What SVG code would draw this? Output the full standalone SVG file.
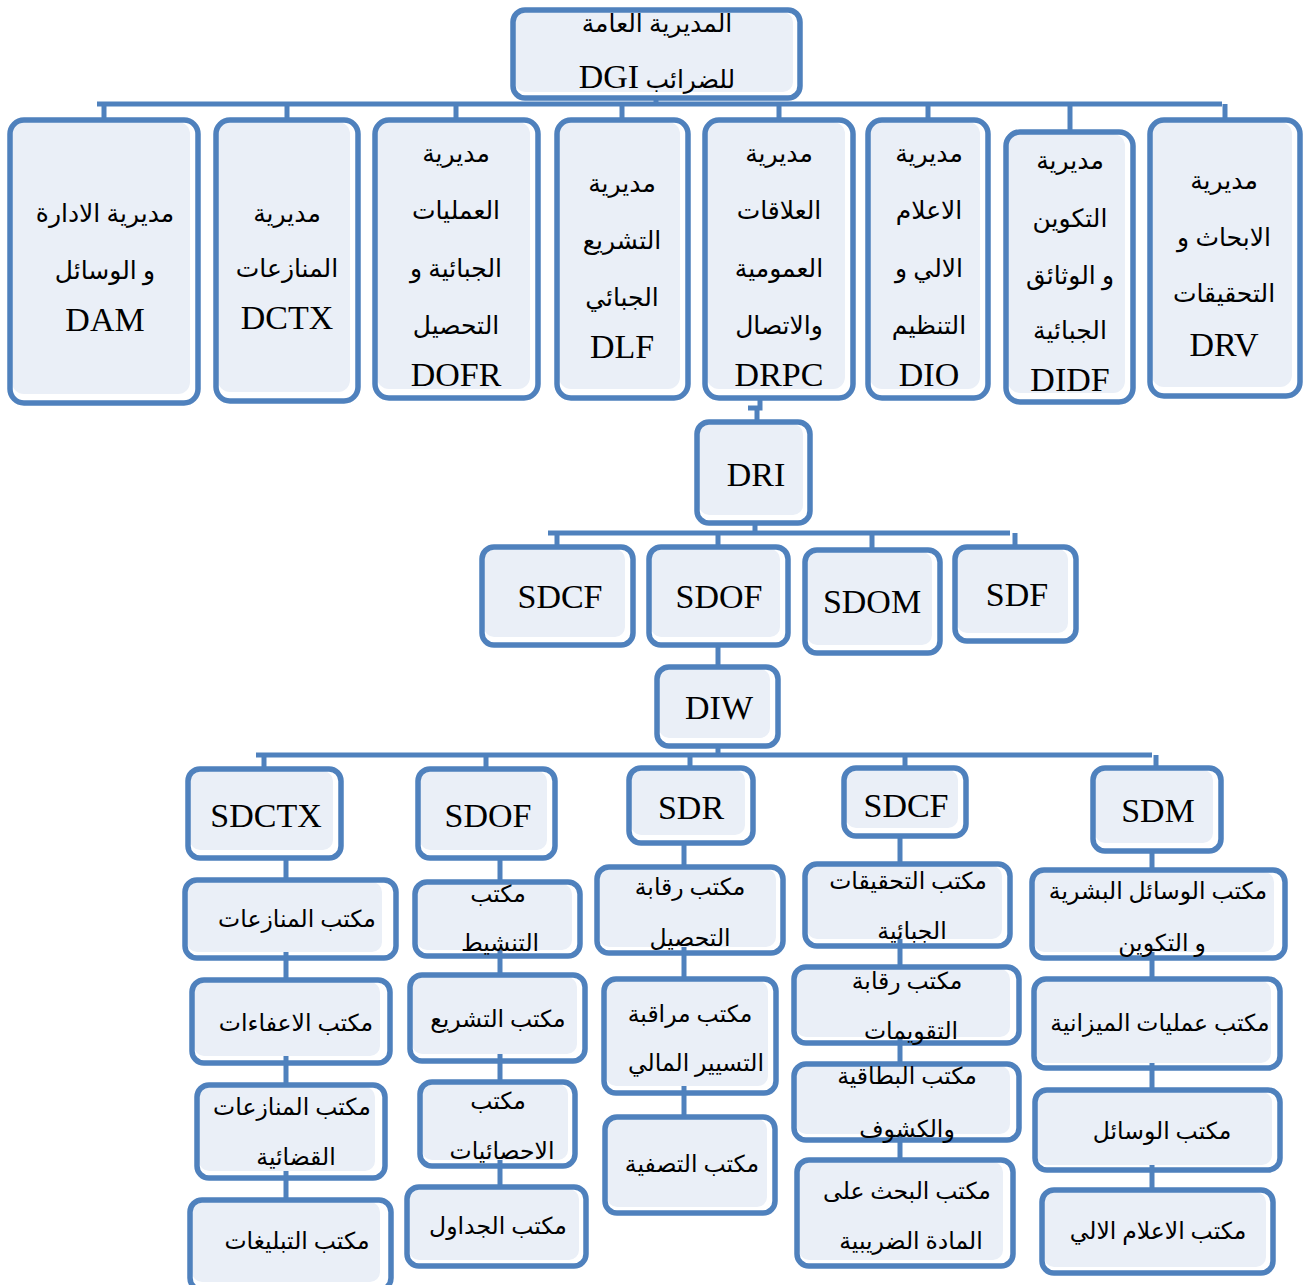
<svg xmlns="http://www.w3.org/2000/svg" width="1304" height="1285" viewBox="0 0 1304 1285">
<style>
.bd{fill:none;stroke:#4f81bd;stroke-width:5.5}
.bg{fill:#eaeff7}
.ln{stroke:#4f81bd;stroke-width:5;fill:none}
.ar{font-family:"Liberation Serif","DejaVu Sans",serif;font-size:25px;fill:#000;text-anchor:middle}
.sm{font-size:23.5px}
.la{font-family:"Liberation Serif",serif;font-size:34px;fill:#000;text-anchor:middle}
</style>
<rect width="1304" height="1285" fill="#fff"/>
<g id="connectors">
<path class="ln" d="M97 104H1222"/>
<path class="ln" d="M656 98V104M104 104V120M287 104V120M456 104V120M622 104V120M779 104V120M928 104V120M1070 104V132M1225 104V120"/>
<path class="ln" d="M760 398V408H748M757 408V422"/>
<path class="ln" d="M755 523V533M548 533H1010M557 533V547M718 533V547M872 533V550M1015 533V547"/>
<path class="ln" d="M718 645V667"/>
<path class="ln" d="M718 746V755M256 755H1152M264 755V769M486 755V769M690 755V768M905 755V768M1156 755V768"/>
<path class="ln" d="M286 858V1200"/>
<path class="ln" d="M500 858V1187"/>
<path class="ln" d="M684 843V1117"/>
<path class="ln" d="M900 836V1160"/>
<path class="ln" d="M1152 851V1190"/>
</g>
<g id="dgi"><rect class="bg" x="515" y="12" width="278" height="80" rx="10"/><rect class="bd" x="513" y="10" width="287" height="88" rx="12"/><text class="ar" x="657" y="32">المديرية العامة</text><text class="ar" x="657" y="88"><tspan class="la" font-size="32">DGI</tspan> للضرائب</text></g>
<g id="dam"><rect class="bg" x="12" y="122" width="178" height="272" rx="12"/><rect class="bd" x="10" y="120" width="188" height="283" rx="14"/><text class="ar" x="105" y="222">مديرية الادارة</text><text class="ar" x="105" y="279">و الوسائل</text><text class="la" x="105" y="331">DAM</text></g>
<g id="dctx"><rect class="bg" x="218" y="122" width="132" height="270" rx="12"/><rect class="bd" x="216" y="120" width="142" height="281" rx="14"/><text class="ar" x="287" y="222">مديرية</text><text class="ar" x="287" y="277">المنازعات</text><text class="la" x="287" y="329">DCTX</text></g>
<g id="dofr"><rect class="bg" x="377" y="122" width="153" height="267" rx="12"/><rect class="bd" x="375" y="120" width="163" height="278" rx="14"/><text class="ar" x="456" y="162">مديرية</text><text class="ar" x="456" y="219">العمليات</text><text class="ar" x="456" y="277">الجبائية و</text><text class="ar" x="456" y="334">التحصيل</text><text class="la" x="456" y="386">DOFR</text></g>
<g id="dlf"><rect class="bg" x="559" y="122" width="121" height="267" rx="12"/><rect class="bd" x="557" y="120" width="131" height="278" rx="14"/><text class="ar" x="622" y="192">مديرية</text><text class="ar" x="622" y="249">التشريع</text><text class="ar" x="622" y="306">الجبائي</text><text class="la" x="622" y="358">DLF</text></g>
<g id="drpc"><rect class="bg" x="707" y="122" width="138" height="267" rx="12"/><rect class="bd" x="705" y="120" width="148" height="278" rx="14"/><text class="ar" x="779" y="162">مديرية</text><text class="ar" x="779" y="219">العلاقات</text><text class="ar" x="779" y="277">العمومية</text><text class="ar" x="779" y="334">والاتصال</text><text class="la" x="779" y="386">DRPC</text></g>
<g id="dio"><rect class="bg" x="870" y="122" width="110" height="267" rx="12"/><rect class="bd" x="868" y="120" width="120" height="278" rx="14"/><text class="ar" x="929" y="162">مديرية</text><text class="ar" x="929" y="219">الاعلام</text><text class="ar" x="929" y="277">الالي و</text><text class="ar" x="929" y="334">التنظيم</text><text class="la" x="929" y="386">DIO</text></g>
<g id="didf"><rect class="bg" x="1008" y="134" width="117" height="259" rx="12"/><rect class="bd" x="1006" y="132" width="127" height="270" rx="14"/><text class="ar" x="1070" y="169">مديرية</text><text class="ar" x="1070" y="227">التكوين</text><text class="ar" x="1070" y="284">و الوثائق</text><text class="ar" x="1070" y="339">الجبائية</text><text class="la" x="1070" y="391">DIDF</text></g>
<g id="drv"><rect class="bg" x="1152" y="122" width="140" height="265" rx="12"/><rect class="bd" x="1150" y="120" width="150" height="276" rx="14"/><text class="ar" x="1224" y="189">مديرية</text><text class="ar" x="1224" y="246">الابحاث و</text><text class="ar" x="1224" y="302">التحقيقات</text><text class="la" x="1224" y="356">DRV</text></g>
<g id="dri"><rect class="bg" x="699" y="424" width="104" height="91" rx="10"/><rect class="bd" x="697" y="422" width="113" height="101" rx="12"/><text class="la" x="756" y="486">DRI</text></g>
<g id="sdcf1"><rect class="bg" x="484" y="549" width="141" height="88" rx="10"/><rect class="bd" x="482" y="547" width="151" height="98" rx="12"/><text class="la" x="560" y="608">SDCF</text></g>
<g id="sdof1"><rect class="bg" x="651" y="549" width="129" height="88" rx="10"/><rect class="bd" x="649" y="547" width="139" height="98" rx="12"/><text class="la" x="719" y="608">SDOF</text></g>
<g id="sdom"><rect class="bg" x="807" y="552" width="125" height="93" rx="10"/><rect class="bd" x="805" y="550" width="135" height="103" rx="12"/><text class="la" x="872" y="613">SDOM</text></g>
<g id="sdf"><rect class="bg" x="957" y="549" width="111" height="84" rx="10"/><rect class="bd" x="955" y="547" width="121" height="94" rx="12"/><text class="la" x="1017" y="606">SDF</text></g>
<g id="diw"><rect class="bg" x="659" y="669" width="111" height="69" rx="10"/><rect class="bd" x="657" y="667" width="121" height="79" rx="12"/><text class="la" x="719" y="719">DIW</text></g>
<g id="sdctx"><rect class="bg" x="190" y="771" width="143" height="79" rx="10"/><rect class="bd" x="188" y="769" width="153" height="89" rx="12"/><text class="la" x="266" y="827">SDCTX</text></g>
<g id="sdof2"><rect class="bg" x="420" y="771" width="127" height="79" rx="10"/><rect class="bd" x="418" y="769" width="137" height="89" rx="12"/><text class="la" x="488" y="827">SDOF</text></g>
<g id="sdr"><rect class="bg" x="631" y="770" width="114" height="65" rx="10"/><rect class="bd" x="629" y="768" width="124" height="75" rx="12"/><text class="la" x="691" y="819">SDR</text></g>
<g id="sdcf2"><rect class="bg" x="846" y="770" width="112" height="58" rx="10"/><rect class="bd" x="844" y="768" width="122" height="68" rx="12"/><text class="la" x="906" y="817">SDCF</text></g>
<g id="sdm"><rect class="bg" x="1095" y="770" width="118" height="73" rx="10"/><rect class="bd" x="1093" y="768" width="128" height="83" rx="12"/><text class="la" x="1158" y="822">SDM</text></g>
<g id="c1a"><rect class="bg" x="187" y="882" width="195" height="70" rx="10"/><rect class="bd" x="185" y="880" width="211" height="78" rx="12"/><text class="ar sm" x="297" y="927">مكتب المنازعات</text></g>
<g id="c1b"><rect class="bg" x="194" y="982" width="186" height="74" rx="10"/><rect class="bd" x="192" y="980" width="198" height="83" rx="12"/><text class="ar sm" x="296" y="1031">مكتب الاعفاءات</text></g>
<g id="c1c"><rect class="bg" x="199" y="1087" width="176" height="84" rx="10"/><rect class="bd" x="197" y="1085" width="188" height="93" rx="12"/><text class="ar sm" x="292" y="1115">مكتب المنازعات</text><text class="ar sm" x="296" y="1165">القضائية</text></g>
<g id="c1d"><rect class="bg" x="192" y="1202" width="188" height="80" rx="10"/><rect class="bd" x="190" y="1200" width="201" height="90" rx="12"/><text class="ar sm" x="297" y="1249">مكتب التبليغات</text></g>
<g id="c2a"><rect class="bg" x="417" y="884" width="155" height="66" rx="10"/><rect class="bd" x="415" y="882" width="165" height="74" rx="12"/><text class="ar sm" x="498" y="902">مكتب</text><text class="ar sm" x="500" y="951">التنشيط</text></g>
<g id="c2b"><rect class="bg" x="412" y="977" width="165" height="77" rx="10"/><rect class="bd" x="410" y="975" width="175" height="86" rx="12"/><text class="ar sm" x="498" y="1027">مكتب التشريع</text></g>
<g id="c2c"><rect class="bg" x="422" y="1084" width="146" height="76" rx="10"/><rect class="bd" x="420" y="1082" width="155" height="84" rx="12"/><text class="ar sm" x="498" y="1109">مكتب</text><text class="ar sm" x="502" y="1159">الاحصائيات</text></g>
<g id="c2d"><rect class="bg" x="409" y="1189" width="170" height="71" rx="10"/><rect class="bd" x="407" y="1187" width="179" height="79" rx="12"/><text class="ar sm" x="498" y="1234">مكتب الجداول</text></g>
<g id="c3a"><rect class="bg" x="599" y="869" width="177" height="78" rx="10"/><rect class="bd" x="597" y="867" width="186" height="86" rx="12"/><text class="ar sm" x="690" y="895">مكتب رقابة</text><text class="ar sm" x="690" y="946">التحصيل</text></g>
<g id="c3b"><rect class="bg" x="606" y="981" width="162" height="105" rx="10"/><rect class="bd" x="604" y="979" width="172" height="114" rx="12"/><text class="ar sm" x="690" y="1022">مكتب مراقبة</text><text class="ar sm" x="696" y="1071">التسيير المالي</text></g>
<g id="c3c"><rect class="bg" x="607" y="1119" width="160" height="88" rx="10"/><rect class="bd" x="605" y="1117" width="170" height="96" rx="12"/><text class="ar sm" x="692" y="1172">مكتب التصفية</text></g>
<g id="c4a"><rect class="bg" x="807" y="866" width="195" height="73" rx="10"/><rect class="bd" x="805" y="864" width="205" height="82" rx="12"/><text class="ar sm" x="908" y="889">مكتب التحقيقات</text><text class="ar sm" x="912" y="939">الجبائية</text></g>
<g id="c4b"><rect class="bg" x="796" y="969" width="214" height="68" rx="10"/><rect class="bd" x="794" y="967" width="225" height="76" rx="12"/><text class="ar sm" x="907" y="989">مكتب رقابة</text><text class="ar sm" x="911" y="1039">التقويمات</text></g>
<g id="c4c"><rect class="bg" x="796" y="1066" width="214" height="68" rx="10"/><rect class="bd" x="794" y="1064" width="225" height="76" rx="12"/><text class="ar sm" x="907" y="1084">مكتب البطاقية</text><text class="ar sm" x="907" y="1137">والكشوف</text></g>
<g id="c4d"><rect class="bg" x="799" y="1162" width="204" height="98" rx="10"/><rect class="bd" x="797" y="1160" width="216" height="106" rx="12"/><text class="ar sm" x="907" y="1199">مكتب البحث على</text><text class="ar sm" x="911" y="1249">المادة الضريبية</text></g>
<g id="c5a"><rect class="bg" x="1034" y="872" width="240" height="80" rx="10"/><rect class="bd" x="1032" y="870" width="253" height="88" rx="12"/><text class="ar sm" x="1158" y="899">مكتب الوسائل البشرية</text><text class="ar sm" x="1162" y="951">و التكوين</text></g>
<g id="c5b"><rect class="bg" x="1036" y="981" width="235" height="82" rx="10"/><rect class="bd" x="1034" y="979" width="246" height="89" rx="12"/><text class="ar sm" x="1160" y="1031">مكتب عمليات الميزانية</text></g>
<g id="c5c"><rect class="bg" x="1037" y="1092" width="235" height="73" rx="10"/><rect class="bd" x="1035" y="1090" width="245" height="80" rx="12"/><text class="ar sm" x="1162" y="1139">مكتب الوسائل</text></g>
<g id="c5d"><rect class="bg" x="1044" y="1192" width="222" height="75" rx="10"/><rect class="bd" x="1042" y="1190" width="231" height="83" rx="12"/><text class="ar sm" x="1158" y="1239">مكتب الاعلام الالي</text></g>
</svg>
